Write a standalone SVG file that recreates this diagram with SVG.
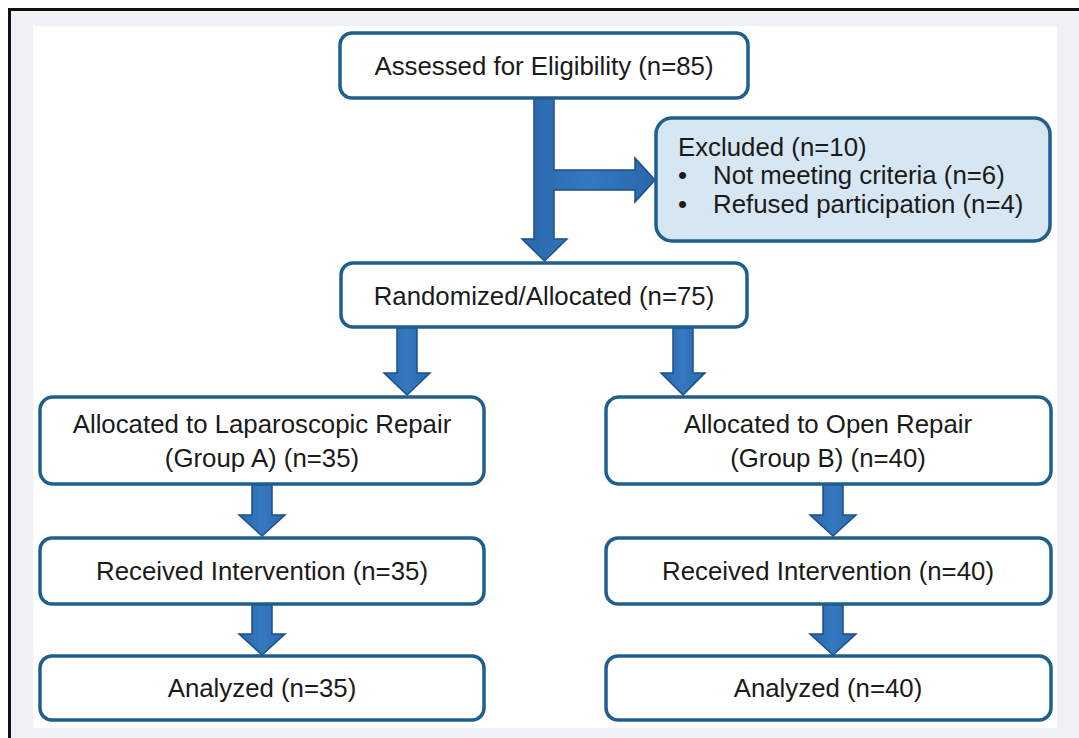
<svg xmlns="http://www.w3.org/2000/svg" width="1079" height="738" viewBox="0 0 1079 738">
  <style>
    .box { fill: #ffffff; stroke: #1f5f8e; stroke-width: 3.5; }
    .excl { fill: #d6e6f2; stroke: #1f5f8e; stroke-width: 3.5; }
    .t { font-family: "Liberation Sans", Arial, sans-serif; font-size: 25.8px; fill: #1a1a1a; }
    .c { text-anchor: middle; }
    .arrow { fill: url(#ag); stroke: #1c4f86; stroke-width: 1.5; stroke-linejoin: miter; }
  </style>
  <defs>
    <linearGradient id="ag" x1="0" y1="0" x2="1" y2="0">
      <stop offset="0" stop-color="#2a67ab"/>
      <stop offset="0.5" stop-color="#3479c0"/>
      <stop offset="1" stop-color="#2a67ab"/>
    </linearGradient>
  </defs>

  <!-- page background and frame -->
  <rect x="0" y="0" width="1079" height="738" fill="#ffffff"/>
  <rect x="10" y="10" width="1069" height="728" fill="#eef2f6"/>
  <rect x="33" y="26" width="1024" height="702" fill="#ffffff"/>
  <path d="M9.5 738 V9.5 H1079" fill="none" stroke="#111111" stroke-width="3"/>

  <g id="connectors">
    <polygon class="arrow" points="534,97 554,97 554,170 635,170 635,158 655,180 635,202 635,190 554,190 554,239 567,239 544.5,261 522,239 534,239"/>
    <polygon class="arrow" points="397,328 417,328 417,373 430,373 407,395 384,373 397,373"/>
    <polygon class="arrow" points="673,328 693,328 693,373 705,373 683,395 661,373 673,373"/>
    <polygon class="arrow" points="252,485 272,485 272,515 285,515 262,536 239,515 252,515"/>
    <polygon class="arrow" points="823,485 843,485 843,515 856,515 833,536 810,515 823,515"/>
    <polygon class="arrow" points="252,605 272,605 272,634 285,634 262,655 239,634 252,634"/>
    <polygon class="arrow" points="823,605 843,605 843,634 856,634 833,655 810,634 823,634"/>
  </g>

  <g id="assessed">
    <rect class="box" x="340" y="33" width="408" height="65" rx="12"/>
    <text class="t c" x="544" y="75">Assessed for Eligibility (n=85)</text>
  </g>

  <g id="excluded">
    <rect class="excl" x="656" y="118" width="394" height="123" rx="16"/>
    <text class="t" x="678" y="156">Excluded (n=10)</text>
    <text class="t" x="678" y="184">•</text>
    <text class="t" x="713" y="184">Not meeting criteria (n=6)</text>
    <text class="t" x="678" y="213">•</text>
    <text class="t" x="713" y="213">Refused participation (n=4)</text>
  </g>

  <g id="randomized">
    <rect class="box" x="341" y="263" width="406" height="64" rx="12"/>
    <text class="t c" x="544" y="305">Randomized/Allocated (n=75)</text>
  </g>

  <g id="groupA">
    <rect class="box" x="40" y="397" width="444" height="87" rx="13"/>
    <text class="t c" x="262" y="433">Allocated to Laparoscopic Repair</text>
    <text class="t c" x="262" y="467">(Group A) (n=35)</text>
  </g>

  <g id="groupB">
    <rect class="box" x="606" y="397" width="445" height="87" rx="13"/>
    <text class="t c" x="828" y="433">Allocated to Open Repair</text>
    <text class="t c" x="828" y="467">(Group B) (n=40)</text>
  </g>

  <g id="receivedA">
    <rect class="box" x="40" y="538" width="444" height="66" rx="12"/>
    <text class="t c" x="262" y="580">Received Intervention (n=35)</text>
  </g>

  <g id="receivedB">
    <rect class="box" x="606" y="538" width="445" height="66" rx="12"/>
    <text class="t c" x="828" y="580">Received Intervention (n=40)</text>
  </g>

  <g id="analyzedA">
    <rect class="box" x="40" y="656" width="444" height="64" rx="12"/>
    <text class="t c" x="262" y="697">Analyzed (n=35)</text>
  </g>

  <g id="analyzedB">
    <rect class="box" x="606" y="656" width="445" height="64" rx="12"/>
    <text class="t c" x="828" y="697">Analyzed (n=40)</text>
  </g>
</svg>
